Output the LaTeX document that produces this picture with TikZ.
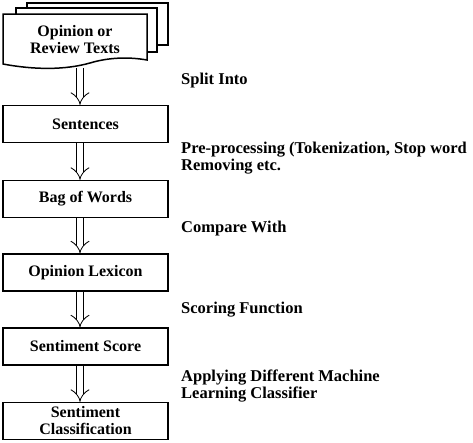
\documentclass[tikz,border=0pt]{standalone}
\usepackage{fontspec}
\setmainfont{Liberation Serif}
\usetikzlibrary{arrows.meta}
\tikzset{
	stepbox/.style={draw, line width=1.5pt, minimum width=165pt, minimum height=37pt, inner sep=0pt, align=center, font=\bfseries\fontsize{16}{17}\selectfont},
	sheet/.style={draw, line width=1.5pt, fill=white},
	flow/.style={double, double distance=6pt, line width=0.8pt, -{Implies}},
	note/.style={anchor=west, align=left, inner sep=0pt, font=\bfseries\fontsize{16.5}{17}\selectfont}
}

\begin{document}
\begin{tikzpicture}[x=1pt, y=-1pt]
		%%%%% START %%%%%
		\useasboundingbox (0, 0) rectangle (473, 442);
		
		% stack of texts
		\draw[sheet] (27, 3) rectangle (168, 45);
		\draw[sheet] (16, 8) rectangle (157, 52);
		\draw[sheet] (3, 14) -- (147, 14) -- (147, 60) .. controls (130, 57) and (110, 57) .. (90, 63) .. controls (65, 70) and (35, 70) .. (3, 64) -- cycle;
		\node[align=center, inner sep=0pt, font=\bfseries\fontsize{16}{17}\selectfont] (texts) at (75, 40) {Opinion or\\Review Texts};
		\coordinate (textsout) at (80, 68);
		
		% boxes
		\node[stepbox] (sent) at (85.5, 124) {Sentences};
		\node[stepbox] (bag) at (85.5, 199) {Bag of Words};
		\node[stepbox] (lex) at (85.5, 272.5) {Opinion Lexicon};
		\node[stepbox] (score) at (85.5, 346.5) {Sentiment Score};
		\node[stepbox] (cls) at (85.5, 421) {Sentiment\\Classification};
		
		% arrows
		\draw[flow] (textsout) -- ([xshift=-5.5pt]sent.north);
		\draw[flow] ([xshift=-5.5pt]sent.south) -- ([xshift=-5.5pt]bag.north);
		\draw[flow] ([xshift=-5.5pt]bag.south) -- ([xshift=-5.5pt]lex.north);
		\draw[flow] ([xshift=-5.5pt]lex.south) -- ([xshift=-5.5pt]score.north);
		\draw[flow] ([xshift=-5.5pt]score.south) -- ([xshift=-5.5pt]cls.north);
		
		% notes
		\node[note] (split) at (181, 81) {Split Into};
		\node[note] (prep) at (181, 158) {Pre-processing (Tokenization, Stop word\\Removing etc.};
		\node[note] (comp) at (181, 229) {Compare With};
		\node[note] (scoring) at (181, 310) {Scoring Function};
		\node[note] (apply) at (181, 386) {Applying Different Machine\\Learning Classifier};
		%%%%% END %%%%%
\end{tikzpicture}
\end{document}
